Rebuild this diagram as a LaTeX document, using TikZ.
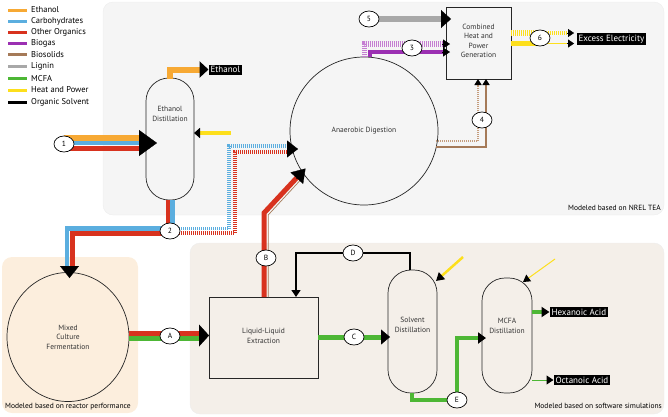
\documentclass[tikz,border=0pt]{standalone}
\usepackage{fontspec}
\setmainfont{PT Sans}
\usetikzlibrary{arrows.meta,shapes.geometric}
\definecolor{cEth}{HTML}{F7A934}
\definecolor{cCarb}{HTML}{5BAEDF}
\definecolor{cOrg}{HTML}{D8321E}
\definecolor{cBiogas}{HTML}{9B30B2}
\definecolor{cBiogasL}{HTML}{C57FD2}
\definecolor{cBiosol}{HTML}{A57A58}
\definecolor{cBiosolL}{HTML}{C49C7C}
\definecolor{cLignin}{HTML}{A8A8A8}
\definecolor{cMCFA}{HTML}{4DB735}
\definecolor{cHeat}{HTML}{FDDF1C}
\definecolor{pGray}{HTML}{F5F5F5}
\definecolor{pBeige}{HTML}{F4EFE9}
\definecolor{pPeach}{HTML}{FCEEDD}
\newcommand{\nodefont}{\fontsize{7.5}{9.5}\selectfont}
\begin{document}
\begin{tikzpicture}[x=1pt,y=-1pt,
  panel/.style={rounded corners=10pt},
  unitbox/.style={draw=black!85, line width=0.7pt, inner sep=0pt},
  vessel/.style={unitbox, rectangle, rounded corners=23pt},
  vtext/.style={font=\nodefont, align=center, text=black!80},
  stream/.style={ellipse, draw=black, line width=0.7pt, fill=white, minimum width=20pt, minimum height=16pt, inner sep=0pt, font=\fontsize{7.5}{8}\selectfont},
  tag/.style={fill=black, text=white, font=\fontsize{9}{10}\selectfont, inner sep=1.8pt, anchor=west},
  hatch/.style={dash pattern=on 1pt off 1pt},
  legline/.style={line width=3pt},
  legtext/.style={anchor=west, font=\fontsize{8.5}{9}\selectfont, inner sep=0pt},
  plabel/.style={font=\fontsize{7.5}{8}\selectfont, inner sep=0pt},
  blk/.style={black, line width=0.3pt}
]
\useasboundingbox (0,0) rectangle (668,416);

% panels
\fill[pGray, draw=black!7, panel] (103,2) rectangle (664,215);
\fill[pPeach, panel] (2,257) rectangle (138,413);
\fill[pBeige, draw=black!7, panel] (190,243) rectangle (664,414);
\node[plabel, anchor=east] (lab1) at (661,208) {Modeled based on NREL TEA};
\node[plabel, anchor=east] (lab2) at (662,406) {Modeled based on software simulations};
\node[plabel, anchor=west] (lab3) at (5,407) {Modeled based on reactor performance};

% legend
\foreach \yy/\cc/\tt [count=\i] in {10/cEth/Ethanol, 21/cCarb/Carbohydrates, 32/cOrg/Other Organics, 43/cBiogas/Biogas, 54.5/cBiosol/Biosolids, 66/cLignin/Lignin, 78.5/cMCFA/MCFA, 90/cHeat/Heat and Power, 102/black/Organic Solvent}{
  \draw[legline, \cc] (8,\yy) -- (27,\yy);
  \node[legtext] (leg\i) at (31,\yy) {\tt};
}

% unit operations
\node[vessel, fill=pGray, minimum width=48pt, minimum height=122pt] (ed) at (170,139) {};
\node[vtext] (edt) at (170,114) {Ethanol\\Distillation};
\node[circle, unitbox, fill=pGray, minimum size=148pt] (ad) at (364,131) {};
\node[vtext] (adt) at (364,131) {Anaerobic Digestion};
\node[unitbox, fill=pGray, minimum width=65pt, minimum height=72pt] (chp) at (478.5,43) {};
\node[vtext] (chpt) at (478.5,41) {Combined\\Heat and\\Power\\Generation};
\node[ellipse, unitbox, fill=pPeach, minimum width=122pt, minimum height=129pt] (mcf) at (68,337) {};
\node[vtext] (mcft) at (68,337) {Mixed\\Culture\\Fermentation};
\node[unitbox, fill=pBeige, minimum width=109pt, minimum height=81pt] (lle) at (263.5,337.5) {};
\node[vtext] (llet) at (263.5,336) {Liquid-Liquid\\Extraction};
\node[vessel, fill=pBeige, minimum width=49pt, minimum height=123pt] (sd) at (412.5,331.5) {};
\node[vtext] (sdt) at (412.5,325) {Solvent\\Distillation};
\node[vessel, fill=pBeige, minimum width=50pt, minimum height=115pt] (md) at (507,335.5) {};
\node[vtext] (mdt) at (507,326) {MCFA\\Distillation};

% product tags
\node[tag] (teth) at (208.5,69.5) {Ethanol};
\node[tag] (tee) at (576.5,39) {Excess Electricity};
\node[tag] (thex) at (549.5,312) {Hexanoic Acid};
\node[tag] (toct) at (553.5,380) {Octanoic Acid};

% stream positions
\coordinate (p1) at (64,144);
\coordinate (p2) at (170,231);
\coordinate (p3) at (412,48);
\coordinate (p4) at (482,120);
\coordinate (p5) at (369,19);
\coordinate (p6) at (540,38);
\coordinate (pA) at (170,336);
\coordinate (pB) at (266,258);
\coordinate (pC) at (354,337);
\coordinate (pD) at (353,253);
\coordinate (pE) at (457,400);

% stream 1
\draw[cEth, line width=6pt] (p1 |- 0,138) -- (140,138);
\draw[cCarb, line width=4pt] (p1 |- 0,143) -- (140,143);
\draw[cOrg, line width=5pt] (p1 |- 0,148) -- (140,148);
\draw[blk, -{Triangle[length=18pt,width=26pt]}] (139,143) -- (157,143);

% ethanol product
\draw[cEth, line width=6pt, -{Triangle[length=9pt,width=16pt,color=black]}] (170,79) -- (170,69.5) -- (teth.west);
% heat to ethanol distillation
\draw[cHeat, line width=4.5pt, -{Triangle[length=6pt,width=10pt,color=black]}] (231,133) -- (194,133);

% stream 2 (solid)
\draw[cOrg, line width=5pt] (168,200) -- (168,233) -- (72,233) -- (72,267);
\draw[cCarb, line width=4.5pt] (172.5,200) -- (172.5,228.5) -- (67,228.5) -- (67,267);
\draw[blk, -{Triangle[length=12pt,width=19pt]}] (69.5,266) -- (69.5,278);
% stream 2 (to digestion)
\draw[cCarb, line width=3.5pt, hatch] (175,228.5) -- (229,228.5) -- (229,146) -- (288,146);
\draw[cOrg, line width=3.5pt, hatch] (175,233) -- (235,233) -- (235,152) -- (288,152);
\draw[blk, -{Triangle[length=11pt,width=17pt]}] (287,149) -- (298,149);

% stream B
\draw[cOrg, line width=5pt] (264,297) -- (264,213) -- (297,177.5);
\draw[cBiosol, line width=0.7pt] (268.2,297) -- (268.2,215) -- (300,180.5);
\draw[blk, -{Triangle[length=13pt,width=17pt]}] (296,179) -- (305.5,168.5);

% stream A
\draw[cOrg, line width=5pt] (129,333) -- (200,333);
\draw[cMCFA, line width=5pt] (129,338) -- (200,338);
\draw[blk, -{Triangle[length=10pt,width=22pt]}] (199,335.5) -- (209,335.5);

% stream C
\draw[cMCFA, line width=5pt] (318,337) -- (382,337);
\draw[blk, -{Triangle[length=9pt,width=15pt]}] (381,337) -- (390,337);

% stream D
\draw[black, line width=1.3pt, -{Triangle[length=7pt,width=9pt]}] (410,270) -- (410,253) -- (296,253) -- (296,297);

% stream E
\draw[cMCFA, line width=4pt, -{Triangle[length=8pt,width=11pt,color=black]}] (412,393) -- (412,400) -- (457,400) -- (457,338) -- (486,338);

% products of MCFA distillation
\draw[cMCFA, line width=4pt, -{Triangle[length=8pt,width=10pt,color=black]}] (532,312) -- (thex.west);
\draw[cMCFA, line width=1pt, -{Triangle[length=7pt,width=9pt,color=black]}] (532,380) -- (toct.west);

% heat to distillations
\draw[cHeat, line width=2.5pt, -{Triangle[length=8pt,width=9pt,color=black]}] (463,257) -- (436,281);
\draw[cHeat, line width=1pt, -{Triangle[length=7pt,width=8pt,color=black]}] (555,259) -- (523,282);

% stream 5
\draw[cLignin, line width=6pt] (p5) -- (442,19);
\draw[blk, -{Triangle[length=10pt,width=18pt]}] (441,19) -- (451,19);

% stream 3
\draw[cBiogasL, line width=5.5pt, hatch] (364.5,57) -- (364.5,44) -- (443,44);
\draw[cBiogas, line width=4pt] (370,57) -- (370,51.5) -- (443,51.5);
\draw[blk, -{Triangle[length=7pt,width=9pt]}] (442,44) -- (450,44);
\draw[blk, -{Triangle[length=7pt,width=9pt]}] (442,52) -- (450,52);

% stream 6
\draw[cHeat, line width=6pt, hatch] (511,33) -- (540,33);
\draw[cHeat, line width=4pt, hatch] (540,33) -- (567,33);
\draw[cHeat, line width=5pt] (511,43.5) -- (540,43.5);
\draw[cHeat, line width=1.5pt] (540,43.5) -- (567,43.5);
\draw[blk, -{Triangle[length=6pt,width=8pt]}] (567,33) -- (574,33);
\draw[blk, -{Triangle[length=6pt,width=8pt]}] (567,43.5) -- (574,43.5);

% stream 4
\draw[cBiosolL, line width=1.5pt, hatch, -{Triangle[length=6pt,width=7pt,color=black]}] (436,141) -- (478,141) -- (478,79);
\draw[cBiosol, line width=2.5pt, -{Triangle[length=6pt,width=7pt,color=black]}] (436,147) -- (486,147) -- (486,79);

% stream markers
\node[stream] (s1) at (p1) {1};
\node[stream] (s2) at (p2) {2};
\node[stream] (s3) at (p3) {3};
\node[stream] (s4) at (p4) {4};
\node[stream] (s5) at (p5) {5};
\node[stream] (s6) at (p6) {6};
\node[stream] (sA) at (pA) {A};
\node[stream] (sB) at (pB) {B};
\node[stream] (sC) at (pC) {C};
\node[stream] (sD) at (pD) {D};
\node[stream] (sE) at (pE) {E};
\end{tikzpicture}
\end{document}
